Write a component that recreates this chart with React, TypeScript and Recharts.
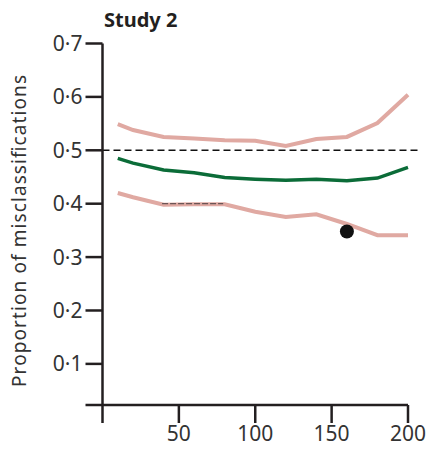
import React from 'react';
import { LineChart, Line, XAxis, YAxis, ReferenceLine, ReferenceDot } from 'recharts';

// Number of training samples
const sampleSizes = [10, 20, 40, 60, 80, 100, 120, 140, 160, 180, 200];
// Upper bound, mean and lower bound of the misclassification proportion
const upperBound = [0.549, 0.538, 0.525, 0.522, 0.519, 0.518, 0.508, 0.521, 0.525, 0.551, 0.604];
const meanRate = [0.485, 0.476, 0.463, 0.458, 0.449, 0.446, 0.444, 0.446, 0.443, 0.448, 0.468];
const lowerBound = [0.42, 0.412, 0.398, 0.399, 0.399, 0.385, 0.375, 0.38, 0.362, 0.341, 0.341];

const chanceLevel = 0.5;
const observedPoint = { x: 160, y: 0.348 };

const yTicks = [0.023, 0.1, 0.2, 0.3, 0.4, 0.5, 0.6, 0.7];
const xTicks = [0, 50, 100, 150, 200];

const data = sampleSizes.map((n, i) => ({
  n,
  upper: upperBound[i],
  mean: meanRate[i],
  lower: lowerBound[i],
}));

const FONT = '"Noto Sans", sans-serif';
const PINK = '#e0a9a2';
const GREEN = '#0b6c38';
const AXIS = '#231f20';
const TEXT = '#333';

const fmtY = (v: number) => (v < 0.05 ? '' : v.toFixed(1).replace('.', '\u00B7'));
const fmtX = (v: number) => (v === 0 ? '' : String(v));

export default function App() {
  return (
    <div style={{ position: 'absolute', left: 0, top: 0, width: 429, height: 450, background: '#fff' }}>
      <LineChart
        width={429}
        height={450}
        data={data}
        margin={{ top: 43.5, right: 21, left: 0, bottom: 0 }}
      >
        <XAxis
          dataKey="n"
          type="number"
          domain={[0, 200]}
          ticks={xTicks}
          tickFormatter={fmtX}
          height={45}
          tickSize={18}
          tickMargin={3}
          stroke={AXIS}
          strokeWidth={2.5}
          tick={{ fill: TEXT, fontSize: 21, fontFamily: FONT }}
        />
        <YAxis
          type="number"
          domain={[0.023, 0.7]}
          ticks={yTicks}
          tickFormatter={fmtY}
          width={102.5}
          tickSize={17}
          tickMargin={3}
          stroke={AXIS}
          strokeWidth={2.5}
          tick={{ fill: TEXT, fontSize: 21, fontFamily: FONT }}
        />
        <ReferenceLine
          segment={[
            { x: 0, y: chanceLevel },
            { x: 208, y: chanceLevel },
          ]}
          ifOverflow="visible"
          stroke="#111"
          strokeWidth={1.5}
          strokeDasharray="7 4"
        />
        <Line dataKey="upper" stroke={PINK} strokeWidth={4} dot={false} isAnimationActive={false} />
        <Line dataKey="lower" stroke={PINK} strokeWidth={4} dot={false} isAnimationActive={false} />
        <Line dataKey="mean" stroke={GREEN} strokeWidth={3.5} dot={false} isAnimationActive={false} />
        <ReferenceLine
          segment={[
            { x: 39, y: 0.4 },
            { x: 79, y: 0.4 },
          ]}
          stroke="#6b5555"
          strokeWidth={1.2}
          strokeDasharray="6 2"
        />
        <ReferenceDot
          x={observedPoint.x}
          y={observedPoint.y}
          r={7}
          fill="#111"
          stroke="none"
        />
        <text
          x={0}
          y={0}
          transform="translate(26, 231) rotate(-90)"
          textAnchor="middle"
          fontFamily={FONT}
          fontSize={19}
          textLength={312}
          lengthAdjust="spacing"
          fill={TEXT}
        >
          Proportion of misclassifications
        </text>
        <text x={104} y={27} fontFamily={FONT} fontSize={20} fontWeight={700} fill="#231f20">
          Study 2
        </text>
      </LineChart>
    </div>
  );
}
